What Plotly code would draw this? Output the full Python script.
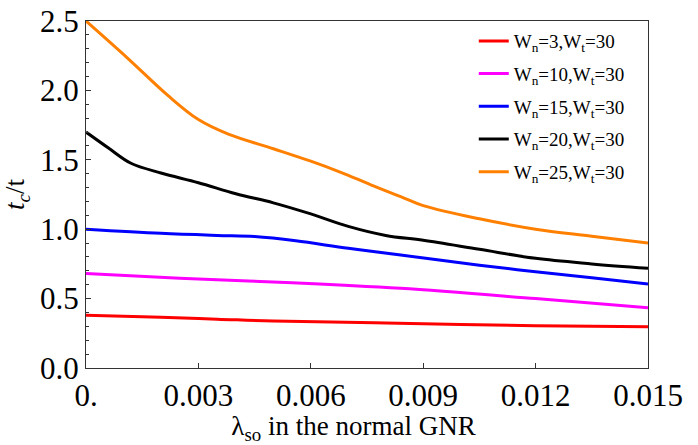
import plotly.graph_objects as go

# Data
x_orange = [0, 0.0011, 0.0022, 0.003, 0.0038, 0.005, 0.006, 0.0068, 0.0076, 0.0084, 0.009, 0.0105, 0.012, 0.0135, 0.015]
y_orange = [2.50, 2.235, 1.96, 1.79, 1.685, 1.58, 1.49, 1.41, 1.32, 1.235, 1.17, 1.075, 1.00, 0.95, 0.90]

x_black = [0, 0.0006, 0.0012, 0.002, 0.003, 0.004, 0.005, 0.006, 0.007, 0.008, 0.009, 0.0105, 0.012, 0.0135, 0.015]
y_black = [1.70, 1.585, 1.475, 1.405, 1.335, 1.255, 1.19, 1.11, 1.02, 0.955, 0.92, 0.855, 0.79, 0.75, 0.718]

x_blue = [0, 0.002, 0.0035, 0.0045, 0.0056, 0.007, 0.0084, 0.0105, 0.012, 0.0135, 0.015]
y_blue = [1.00, 0.97, 0.955, 0.947, 0.917, 0.862, 0.814, 0.74, 0.694, 0.65, 0.605]

x_magenta = [0, 0.0025, 0.0055, 0.0084, 0.012, 0.015]
y_magenta = [0.68, 0.646, 0.615, 0.574, 0.50, 0.434]

x_red = [0, 0.002, 0.0035, 0.005, 0.008, 0.012, 0.015]
y_red = [0.38, 0.365, 0.352, 0.338, 0.325, 0.304, 0.297]

series = [
    ("W<sub>n</sub>=3,W<sub>t</sub>=30", x_red, y_red, "#FF0000"),
    ("W<sub>n</sub>=10,W<sub>t</sub>=30", x_magenta, y_magenta, "#FF00FF"),
    ("W<sub>n</sub>=15,W<sub>t</sub>=30", x_blue, y_blue, "#0000FF"),
    ("W<sub>n</sub>=20,W<sub>t</sub>=30", x_black, y_black, "#000000"),
    ("W<sub>n</sub>=25,W<sub>t</sub>=30", x_orange, y_orange, "#FF8000"),
]

x_tickvals = [0, 0.003, 0.006, 0.009, 0.012, 0.015]
x_ticktext = ["0.", "0.003", "0.006", "0.009", "0.012", "0.015"]
y_tickvals = [0, 0.5, 1.0, 1.5, 2.0, 2.5]
y_ticktext = ["0.0", "0.5", "1.0", "1.5", "2.0", "2.5"]

fig = go.Figure()
for i, (name, xs, ys, col) in enumerate(series):
    fig.add_trace(go.Scatter(
        x=xs, y=ys, mode="lines", name=name,
        line=dict(color=col, width=3, shape="spline", smoothing=1.0),
        legendgroup=f"g{i}",
    ))

font_family = "Liberation Serif"
fig.update_layout(
    width=698, height=445,
    margin=dict(l=86, r=50, t=21, b=77),
    paper_bgcolor="white", plot_bgcolor="white",
    font=dict(family=font_family, size=28, color="black"),
    showlegend=True,
    legend=dict(
        x=0.69, y=0.997, xanchor="left", yanchor="top",
        bgcolor="rgba(0,0,0,0)",
        font=dict(family=font_family, size=19, color="black"),
        traceorder="grouped", tracegroupgap=5,
        itemwidth=30,
    ),
    xaxis=dict(
        range=[0, 0.015], tickmode="array", tickvals=x_tickvals, ticktext=x_ticktext,
        automargin=False,
        showgrid=False, zeroline=False, showline=True, linecolor="#333", linewidth=1,
        mirror=True, ticks="inside", ticklen=5, tickcolor="#333",
        tickfont=dict(family=font_family, size=31, color="black"),
        title=dict(text="λ<sub>so</sub> in the normal GNR&nbsp;&nbsp;&nbsp;&nbsp;",
                   font=dict(family=font_family, size=27, color="black")),
    ),
    yaxis=dict(
        range=[0, 2.5], tickmode="array", tickvals=y_tickvals, ticktext=y_ticktext,
        automargin=False,
        showgrid=False, zeroline=False, showline=True, linecolor="#333", linewidth=1,
        mirror=True, ticks="inside", ticklen=5, tickcolor="#333",
        minor=dict(dtick=0.1, ticks="inside", ticklen=3, tickcolor="#333", showgrid=False),
        tickfont=dict(family=font_family, size=31, color="black"),
        title=dict(text="<i>t<sub>c</sub></i>/t",
                   font=dict(family=font_family, size=27, color="black")),
    ),
)

fig.write_html("out.html")
